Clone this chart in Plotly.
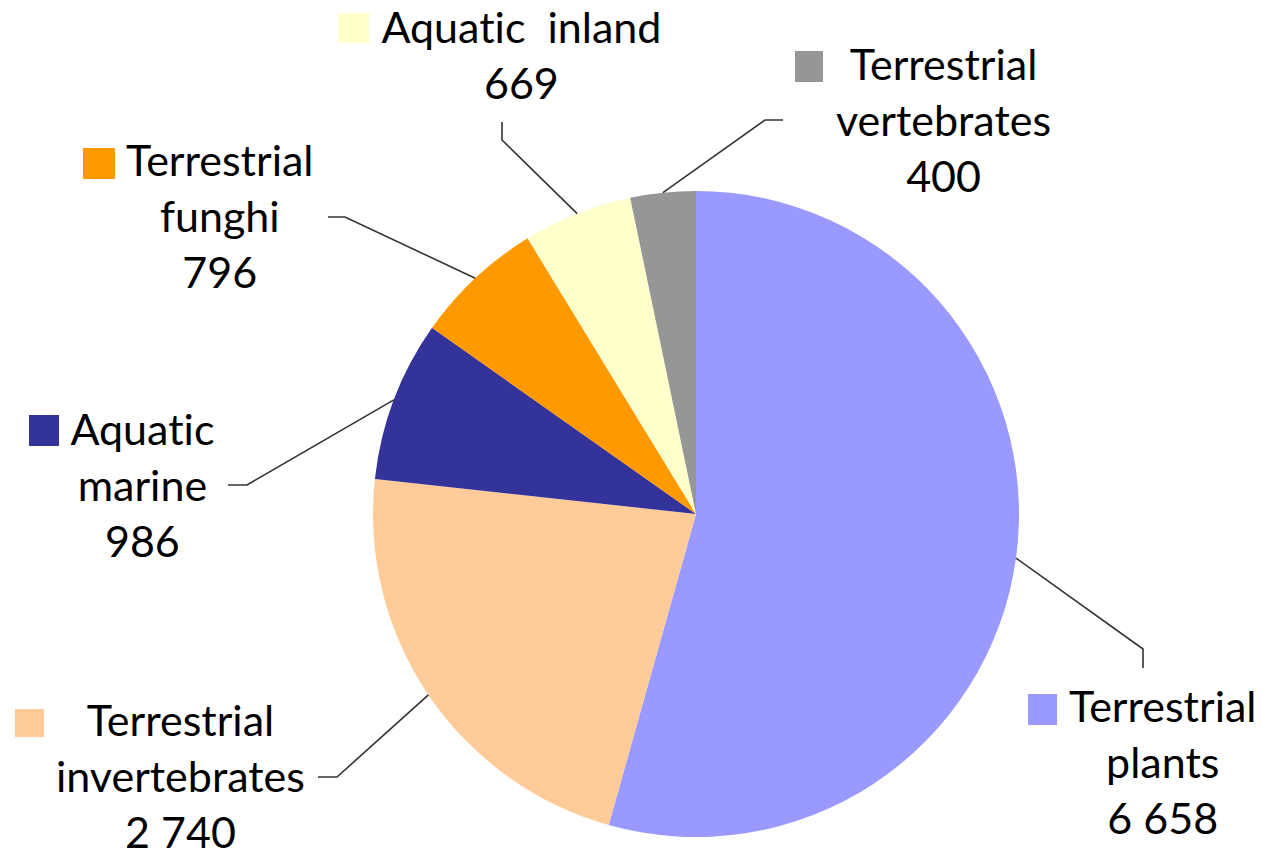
import math
import plotly.graph_objects as go

# ---- data ----
categories = ["Terrestrial plants", "Terrestrial invertebrates", "Aquatic marine",
              "Terrestrial funghi", "Aquatic inland", "Terrestrial vertebrates"]
values = [6658, 2740, 986, 796, 669, 400]
value_labels = ["6 658", "2 740", "986", "796", "669", "400"]
label_lines = [["Terrestrial", "plants"], ["Terrestrial", "invertebrates"], ["Aquatic", "marine"],
               ["Terrestrial", "funghi"], ["Aquatic  inland"], ["Terrestrial", "vertebrates"]]
colors = ["#9999FF", "#FFCC99", "#333399", "#FF9900", "#FFFFCC", "#969696"]

# ---- layout geometry (pixels) ----
W, H = 1263, 853
PIE_CX, PIE_CY, PIE_R = 696, 514, 323
FONT = "Lato, 'Open Sans', sans-serif"
FSIZE = 43

# label block centre (x, y), legend square (x0,y0,x1,y1), leader elbow and end
label_pos = [(1163, 761), (181, 775), (142, 485), (220, 215), (521, 54), (943, 120)]
square_pos = [(1028, 694, 1057, 725), (15, 709, 44, 737), (29, 415, 59, 446),
              (83, 148, 115, 179), (338, 13, 369, 43), (795, 51, 823, 82)]
elbows = [(1143, 649), (337, 777), (247, 485), (345, 217), (502, 140), (765, 120)]
ends = [(1143, 668), (318, 777), (228, 485), (328, 217), (502, 122), (783, 120)]


def px(x):
    return x / W


def py(y):
    return 1 - y / H


fig = go.Figure(go.Pie(
    labels=categories, values=values, sort=False, direction="clockwise", rotation=0,
    marker=dict(colors=colors, line=dict(width=0)), textinfo="none", hoverinfo="label+value",
    showlegend=False,
    domain=dict(x=[px(PIE_CX - PIE_R), px(PIE_CX + PIE_R)],
                y=[py(PIE_CY + PIE_R), py(PIE_CY - PIE_R)]),
))

total = sum(values)
shapes = []
annotations = []
cum = 0
for i, v in enumerate(values):
    mid = (cum + v / 2) / total * 2 * math.pi
    cum += v
    ax = PIE_CX + PIE_R * math.sin(mid)
    ay = PIE_CY - PIE_R * math.cos(mid)
    ex, ey = elbows[i]
    fx, fy = ends[i]
    shapes.append(dict(type="path", xref="paper", yref="paper",
                       path=f"M {px(ax)},{py(ay)} L {px(ex)},{py(ey)} L {px(fx)},{py(fy)}",
                       line=dict(color="#333333", width=1.6)))
    x0, y0, x1, y1 = square_pos[i]
    shapes.append(dict(type="rect", xref="paper", yref="paper",
                       x0=px(x0), x1=px(x1), y0=py(y1), y1=py(y0),
                       fillcolor=colors[i], line=dict(width=0)))
    lx, ly = label_pos[i]
    text = "<br>".join(label_lines[i] + [value_labels[i]])
    annotations.append(dict(x=px(lx), y=py(ly), xref="paper", yref="paper",
                            text=text, showarrow=False, xanchor="center", yanchor="middle",
                            align="center", font=dict(family=FONT, size=FSIZE, color="#000000")))

fig.update_layout(width=W, height=H, margin=dict(l=0, r=0, t=0, b=0),
                  paper_bgcolor="white", plot_bgcolor="white",
                  shapes=shapes, annotations=annotations)
post = (
    "document.body.style.margin='0px';document.body.style.overflow='hidden';"
    "var s=document.createElement('style');"
    "s.textContent='text{font-variant-ligatures:none;font-feature-settings:\"liga\" 0,\"clig\" 0;}';"
    "document.head.appendChild(s);"
)
fig.write_html("out.html", config={"displayModeBar": False}, post_script=post)
